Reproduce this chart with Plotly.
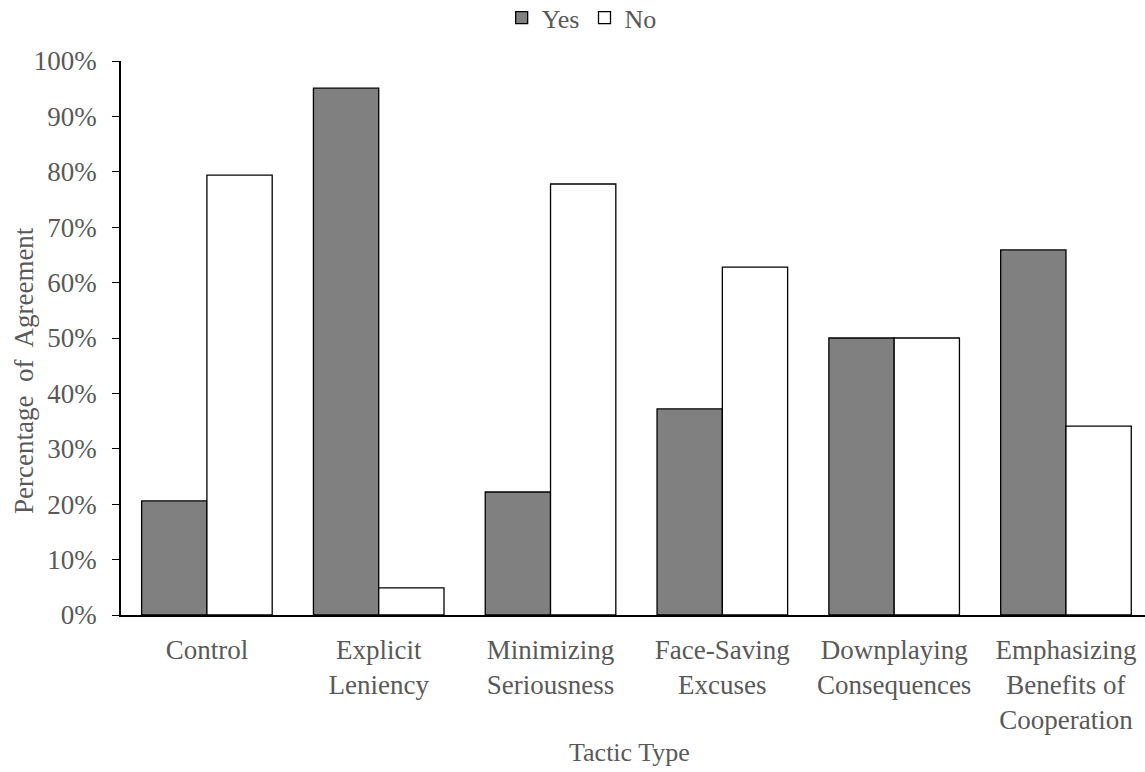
import plotly.graph_objects as go

categories = ["Control", "Explicit<br>Leniency", "Minimizing<br>Seriousness", "Face-Saving<br>Excuses",
              "Downplaying<br>Consequences", "Emphasizing<br>Benefits of<br>Cooperation"]
yes_vals = [0.206, 0.951, 0.222, 0.372, 0.500, 0.659]
no_vals = [0.794, 0.049, 0.778, 0.628, 0.500, 0.341]
y_ticks = [i / 10 for i in range(11)]
y_tick_labels = [f"{i*10}%" for i in range(11)]

FONT = "Liberation Serif, Times New Roman, serif"
TXT = "#595959"
FS = 27

fig = go.Figure()
fig.add_trace(go.Bar(name="Yes", x=categories, y=yes_vals,
                     marker=dict(color="#808080", line=dict(color="black", width=1.3))))
fig.add_trace(go.Bar(name="No", x=categories, y=no_vals,
                     marker=dict(color="white", line=dict(color="black", width=1.3))))

fig.update_layout(
    width=1145, height=772,
    margin=dict(l=121, r=0, t=61, b=157, autoexpand=False),
    paper_bgcolor="white", plot_bgcolor="white",
    barmode="group", bargap=0.24, bargroupgap=0,
    font=dict(family=FONT, size=FS, color=TXT),
    legend=dict(orientation="h", xref="container", yref="paper", x=0.508, xanchor="center",
                y=1.078, yanchor="middle", font=dict(size=26, color=TXT), traceorder="normal",
                itemwidth=30, tracegroupgap=0),
    showlegend=True,
)
fig.add_annotation(text="Percentage\u00a0 of\u00a0 Agreement", xref="paper", yref="paper",
                   x=(24 - 121) / 1024, y=(615 - 371) / 554, textangle=-90, showarrow=False,
                   xanchor="center", yanchor="middle", font=dict(size=27, color=TXT))
fig.add_annotation(text="Tactic Type", xref="paper", yref="paper",
                   x=(629 - 121) / 1024, y=(615 - 752) / 554, showarrow=False,
                   xanchor="center", yanchor="middle", font=dict(size=26, color=TXT))
fig.update_xaxes(range=[-0.5, 5.46], showline=True, linecolor="black", linewidth=1.5,
                 ticks="", showgrid=False, tickfont=dict(size=FS, color=TXT), automargin=False,
                 ticklabelstandoff=10)
fig.update_yaxes(range=[0, 1], tickvals=y_ticks, ticktext=y_tick_labels, showline=True,
                 linecolor="black", linewidth=1.5, ticks="outside", ticklen=7, tickcolor="black",
                 showgrid=False, zeroline=False, tickfont=dict(size=FS, color=TXT), automargin=False,
                 ticklabelstandoff=10)

fig.write_html("out.html", config={"displayModeBar": False},
               post_script="document.body.style.margin='0';")
